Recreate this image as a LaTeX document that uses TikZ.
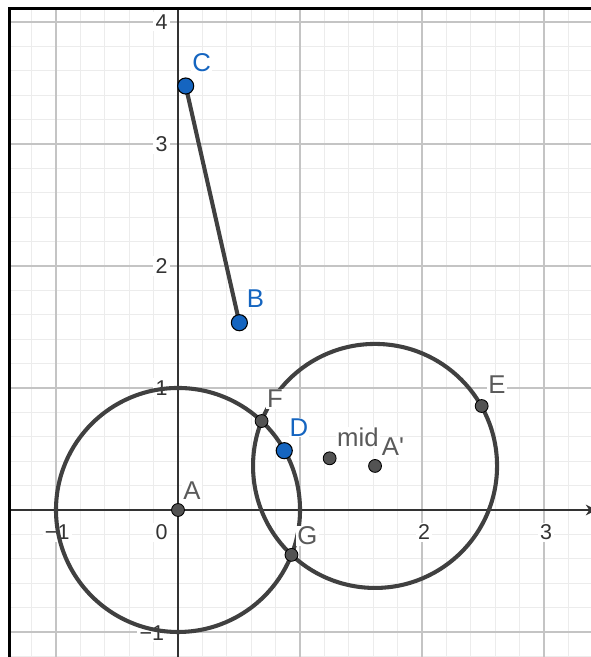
\documentclass[tikz,border=0pt]{standalone}
\usepackage{fontspec}
\setmainfont{Liberation Sans}
\usetikzlibrary{arrows.meta,calc,backgrounds}
\definecolor{ggblue}{RGB}{21,101,192}
\definecolor{ggline}{RGB}{64,64,64}
\definecolor{gglabel}{RGB}{90,90,90}
\definecolor{ggminor}{RGB}{236,236,236}
\definecolor{ggmajor}{RGB}{196,196,196}
\tikzset{
  bluept/.style={circle,fill=ggblue,draw=black,line width=0.5pt,inner sep=0pt,minimum size=7.5pt},
  graypt/.style={circle,fill=ggline!90,draw=black,line width=0.4pt,inner sep=0pt,minimum size=6pt},
  bluelbl/.style={text=ggblue,fill=white,inner sep=0.5pt,font=\fontsize{12}{12}\selectfont},
  graylbl/.style={text=gglabel,fill=white,inner sep=0.5pt,font=\fontsize{12}{12}\selectfont},
  ticklbl/.style={text=black!80,fill=white,inner sep=1pt,font=\fontsize{10}{10}\selectfont},
  ggcurve/.style={draw=ggline,line width=1.9pt}
}

\begin{document}
\begin{tikzpicture}[x=2cm,y=2cm]
\useasboundingbox (-1.459,-1.205) rectangle (3.385,4.180);
\begin{scope}[on background layer]
\draw[ggminor,line width=0.45pt,step=0.2] (-1.385,-1.205) grid (3.385,4.108);
\draw[ggmajor,line width=0.7pt,step=1] (-1.385,-1.205) grid (3.385,4.108);
\draw[black!80,line width=0.7pt,-{Stealth[length=5pt,width=5pt]}] (-1.385,0) -- (3.43,0);
\draw[black!80,line width=0.7pt] (0,-1.205) -- (0,4.108);
\draw[black,line width=1.4pt] (-1.385,-1.205) -- (-1.385,4.108) -- (3.385,4.108);
\foreach \v in {1,2,3,4} \node[ticklbl] (y\v) at (-0.135,\v) {\v};
\node[ticklbl] (ym1) at (-0.215,-1.008) {−1};
\node[ticklbl] (xm1) at (-0.99,-0.184) {−1};
\node[ticklbl] (x0) at (-0.135,-0.184) {0};
\node[ticklbl] (x2) at (2.016,-0.184) {2};
\node[ticklbl] (x3) at (3.016,-0.184) {3};
\end{scope}

\node[graypt] (A) at (0,0) {};
\node[graypt] (Ap) at (1.615,0.361) {};
\node[bluept] (C) at (0.063,3.475) {};
\node[bluept] (B) at (0.503,1.535) {};
\node[bluept] (D) at (0.871,0.486) {};
\node[graypt] (mid) at ($(D)!0.5!(Ap)$) {};
\node[graypt] (E) at (2.489,0.852) {};
\node[graypt] (F) at (0.685,0.729) {};
\node[graypt] (G) at (0.930,-0.368) {};

\node[bluelbl] (Clbl) at (0.193,3.668) {C};
\node[bluelbl] (Blbl) at (0.635,1.734) {B};
\node[bluelbl] (Dlbl) at (0.992,0.676) {D};
\node[graylbl] (Albl) at (0.115,0.156) {A};
\node[graylbl] (Flbl) at (0.795,0.910) {F};
\node[graylbl] (Glbl) at (1.061,-0.213) {G};
\node[graylbl] (Elbl) at (2.615,1.025) {E};
\node[graylbl] (midlbl) at (1.475,0.598) {mid};
\node[graylbl] (Aplbl) at (1.762,0.516) {A\textquotesingle};

\begin{scope}[on background layer]
\draw[ggcurve] (A.center) circle[radius=1];
\draw[ggcurve] (Ap.center) circle[radius=1];
\draw[ggcurve] (C.center) -- (B.center);
\end{scope}
\end{tikzpicture}
\end{document}
